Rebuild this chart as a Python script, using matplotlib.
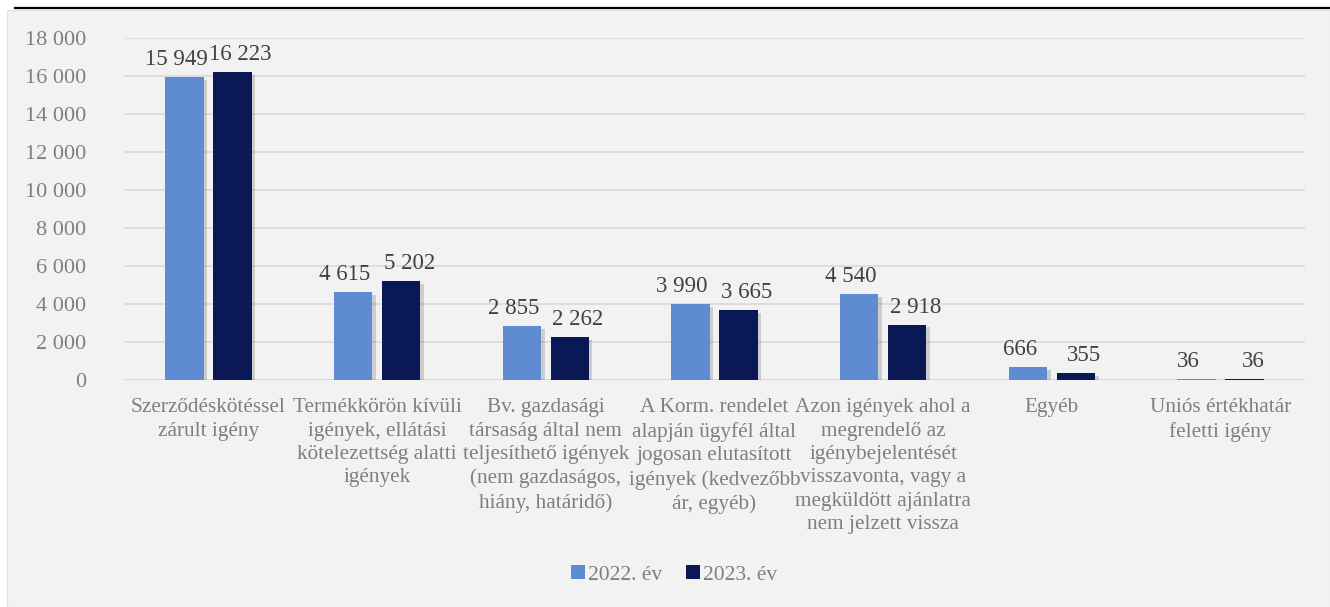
import matplotlib
matplotlib.use("Agg")
import matplotlib.pyplot as plt
import matplotlib.patheffects as pe
import numpy as np

categories = [
    "Szerződéskötéssel\nzárult igény",
    "Termékkörön kívüli\nigények, ellátási\nkötelezettség alatti\nigények",
    "Bv. gazdasági\ntársaság által nem\nteljesíthető igények\n(nem gazdaságos,\nhiány, határidő)",
    "A Korm. rendelet\nalapján ügyfél által\njogosan elutasított\nigények (kedvezőbb\nár, egyéb)",
    "Azon igények ahol a\nmegrendelő az\nigénybejelentését\nvisszavonta, vagy a\nmegküldött ajánlatra\nnem jelzett vissza",
    "Egyéb",
    "Uniós értékhatár\nfeletti igény",
]
series_names = ["2022. év", "2023. év"]
values_2022 = [15949, 4615, 2855, 3990, 4540, 666, 36]
values_2023 = [16223, 5202, 2262, 3665, 2918, 355, 36]
y_ticks = [0, 2000, 4000, 6000, 8000, 10000, 12000, 14000, 16000, 18000]

colors = ["#5F8CD1", "#0A1855"]
FONT = ["Liberation Serif", "DejaVu Serif"]
plt.rcParams["font.family"] = FONT

def fmt(v):
    return f"{v:,}".replace(",", " ")

W, H = 1330, 607
fig = plt.figure(figsize=(W / 100, H / 100), dpi=100)
fig.patch.set_facecolor("white")

# background panel
panel = plt.Rectangle((7 / W, 0), 1 - 7 / W, 1 - 10 / H, transform=fig.transFigure,
                      facecolor="#F2F2F2", edgecolor="#E0E0E0", lw=0.8, zorder=-10)
fig.patches.append(panel)
fig.add_artist(plt.Line2D([15 / W, 1], [1 - 7.5 / H, 1 - 7.5 / H], color="black", lw=1.6,
                          transform=fig.transFigure, zorder=-5))

left, right = 124 / W, 1305 / W
bottom, top = (H - 380) / H, (H - 38) / H
ax = fig.add_axes([left, bottom, right - left, top - bottom])
ax.set_zorder(1)
ax.set_facecolor("none")

x = np.arange(len(categories))
off = 0.142
bw = 0.228
shadow = [pe.SimplePatchShadow(offset=(2.5, -2), shadow_rgbFace="black", alpha=0.15), pe.Normal()]
for vals, c, d, name, dx in [(values_2022, colors[0], -off, series_names[0], -6),
                             (values_2023, colors[1], off, series_names[1], 6)]:
    bars = ax.bar(x + d, vals, width=bw, color=c, label=name, zorder=3)
    for b in bars:
        b.set_path_effects(shadow)
    for xi, v in zip(x + d, vals):
        ax.annotate(fmt(v), (xi, v), xytext=(dx, 5), textcoords="offset points",
                    ha="center", va="bottom", fontsize=16.5, color="#404040", zorder=4)

ax.set_xlim(-0.5, len(categories) - 0.5)
ax.set_ylim(0, 18000)
ax.set_yticks(y_ticks)
ax.set_yticklabels([fmt(t) for t in y_ticks], fontsize=16, color="#7F7F7F")
ax.yaxis.grid(True, color="#D9D9D9", lw=1.2, zorder=0)
ax.set_axisbelow(True)
ax.tick_params(axis="y", length=0, pad=27)
for lab in ax.get_yticklabels():
    lab.set_horizontalalignment("right")
ax.set_xticks(x)
ax.set_xticklabels(categories, fontsize=15.3, color="#7F7F7F", linespacing=1.32, va="top")
ax.tick_params(axis="x", length=0, pad=13)
for s in ax.spines.values():
    s.set_visible(False)
ax.axhline(0, color="#D9D9D9", lw=1.2, zorder=1)

leg = fig.legend(loc="center", bbox_to_anchor=(674 / W, (H - 575) / H), ncol=2, frameon=False,
                 fontsize=15.5, handlelength=0.65, handleheight=0.65, handletextpad=0.15,
                 columnspacing=1.1)
for t in leg.get_texts():
    t.set_color("#7F7F7F")
for h in leg.legend_handles:
    h.set_path_effects([])

fig.savefig("out.png", dpi=100, facecolor=fig.get_facecolor())
